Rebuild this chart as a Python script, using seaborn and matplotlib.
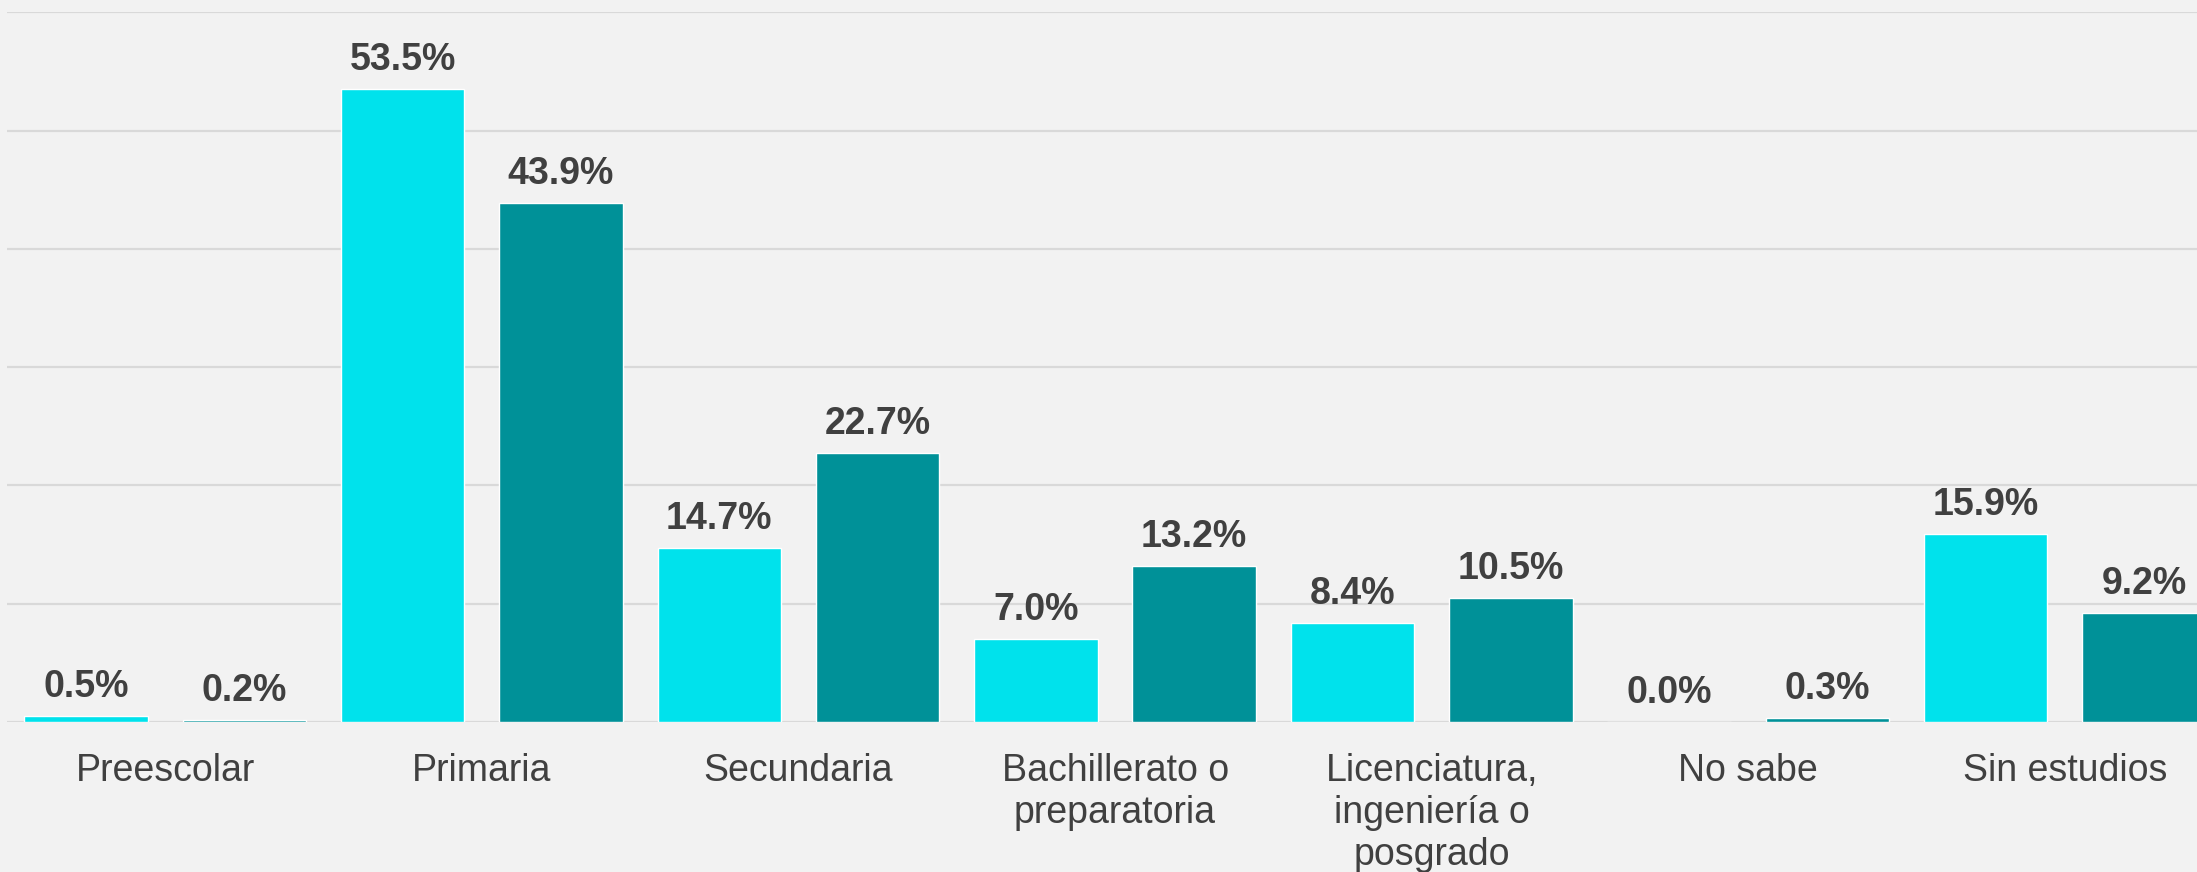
import pandas as pd
import matplotlib.pyplot as plt
import seaborn as sns

# Data
categories = ['Preescolar', 'Primaria', 'Secundaria', 'Bachillerato o\npreparatoria',
              'Licenciatura,\ningeniería o\nposgrado', 'No sabe', 'Sin estudios']
series_names = ['Serie 1', 'Serie 2']
serie_1 = [0.5, 53.5, 14.7, 7.0, 8.4, 0.0, 15.9]
serie_2 = [0.2, 43.9, 22.7, 13.2, 10.5, 0.3, 9.2]

df = pd.DataFrame({
    'Nivel': categories * 2,
    'Serie': [series_names[0]] * len(categories) + [series_names[1]] * len(categories),
    'Valor': serie_1 + serie_2,
})

sns.set_style('white')
plt.rcParams['font.family'] = ['Liberation Sans', 'DejaVu Sans']

bg = '#F2F2F2'
text_color = '#404040'
palette = {series_names[0]: '#00E2EC', series_names[1]: '#009198'}

fig = plt.figure(figsize=(21.97, 8.72), dpi=100, facecolor=bg)
ax = fig.add_axes([0.0032, 0.172, 1.0087, 0.814])
ax.set_facecolor(bg)

sns.barplot(data=df, x='Nivel', y='Valor', hue='Serie', palette=palette,
            width=1.0, gap=0.22, saturation=1, legend=False, ax=ax, zorder=3)

ax.set_ylim(0, 60)
ax.set_xlim(-0.5, 6.5)
ax.set_yticks(range(0, 61, 10))
ax.yaxis.grid(True, color='#D9D9D9', linewidth=1.6, zorder=0)
ax.set_axisbelow(True)
ax.set_yticklabels([])
ax.tick_params(axis='y', length=0)
ax.tick_params(axis='x', length=0, pad=22, labelsize=27, labelcolor=text_color)
for lbl in ax.get_xticklabels():
    lbl.set_linespacing(1.22)
ax.set_xlabel('')
ax.set_ylabel('')
for s in ax.spines.values():
    s.set_visible(False)

for cont in ax.containers:
    ax.bar_label(cont, fmt='%.1f%%', padding=8, fontsize=27, fontweight='bold',
                 color=text_color)

fig.savefig('out.png', dpi=100, facecolor=bg)
